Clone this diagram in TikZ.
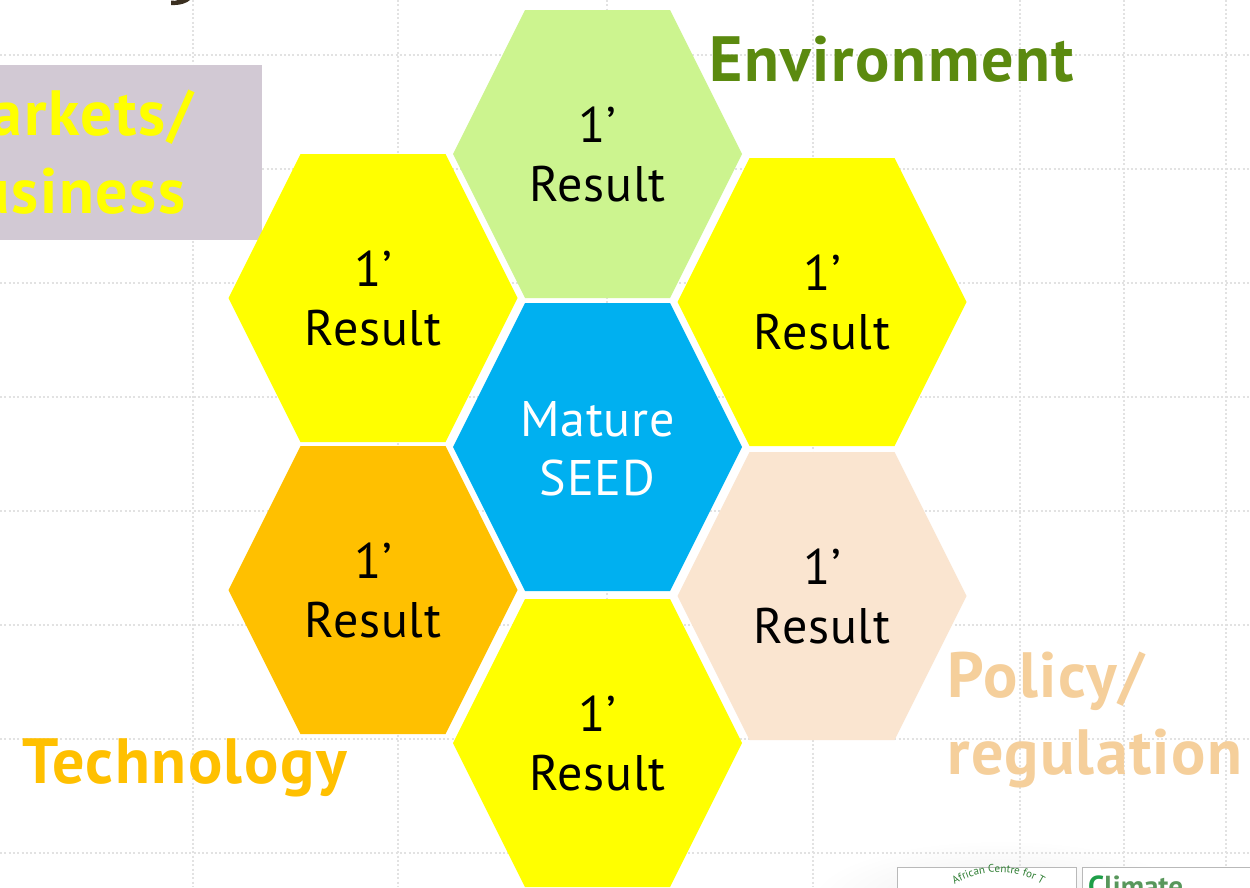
\documentclass[tikz,border=0pt]{standalone}
\usepackage{fontspec}
\usetikzlibrary{decorations.text,shadings}
\newfontfamily\din[LetterSpace=1.6]{PT Sans}
\newfontfamily\dinb[LetterSpace=2.5]{PT Sans Bold}
\newfontfamily\dinreg[LetterSpace=2.1]{PT Sans Bold}
\newfontfamily\dinlogo{PT Sans Bold}
\newfontfamily\dinarc{PT Sans}
\definecolor{gridc}{HTML}{E2E2E2}
\definecolor{hexgreen}{HTML}{CCF48F}
\definecolor{hexyellow}{HTML}{FFFF00}
\definecolor{hexorange}{HTML}{FFC000}
\definecolor{hexpeach}{HTML}{FAE5D0}
\definecolor{hexblue}{HTML}{00B0F0}
\definecolor{labgreen}{HTML}{5B8A0F}
\definecolor{labpeach}{HTML}{F5CF9B}
\definecolor{boxmauve}{HTML}{D2C9D4}
\definecolor{titlebrown}{HTML}{3B3021}
\definecolor{logogreen}{HTML}{2E7D32}
\definecolor{climgreen}{HTML}{1E9E48}
\tikzset{
  gridline/.style={draw=gridc,line width=1.6pt,dash pattern=on 2pt off 2.3pt},
  hextext/.style={font=\din\fontsize{50}{59}\selectfont,align=center,inner sep=0pt,text=black},
  biglabel/.style={font=\dinb\fontsize{64}{78}\selectfont,align=left,inner sep=0pt,anchor=base west},
  logobox/.style={draw=gray!55,line width=0.8pt,fill=white},
}
\newcommand{\hexcell}[5]{%
  \fill[#4] (#2-144.5,#3) -- (#2-72.5,#3-144) -- (#2+72.5,#3-144) -- (#2+144.5,#3) -- (#2+72.5,#3+144) -- (#2-72.5,#3+144) -- cycle;
  \node[hextext,#5] (#1) at (#2,#3+0.5) {1’\\Result};
}
\begin{document}
\begin{tikzpicture}[x=1pt,y=-1pt]
\useasboundingbox (0,0) rectangle (1250,887);
\clip (0,0) rectangle (1250,887);
\fill[white] (0,0) rectangle (1250,887);
% soft shadow near logos
\shade[inner color=gray!14,outer color=white] (1000,900) ellipse (190 and 60);
% grid
\foreach \yy in {55,169,283,397,511,625,739,853} \draw[gridline] (0,\yy) -- (1250,\yy);
\foreach \xx in {193,398,607,813,1020,1124,1226} \draw[gridline] (\xx,0) -- (\xx,887);
% title fragment
\fill[titlebrown] (171,0.5) .. controls (171,2) and (171,3) .. (171,5) .. controls (180,5.5) and (187,3) .. (190,0) -- (178,0) .. controls (176,1) and (174,1) .. (171,0.5) -- cycle;
% markets box
\fill[boxmauve] (0,65) rectangle (262,240);
\node[biglabel,text=hexyellow] (markets) at (-62,135) {Markets/};
\node[biglabel,text=hexyellow] (business) at (-64,213) {Business};
% hexagons
\hexcell{top}{597.5}{154}{hexgreen}{}
\hexcell{upleft}{373}{298}{hexyellow}{}
\hexcell{upright}{822}{302}{hexyellow}{}
\hexcell{lowleft}{373}{590}{hexorange}{}
\hexcell{lowright}{822}{596}{hexpeach}{}
\hexcell{bottom}{597.5}{743}{hexyellow}{}
\fill[hexblue] (453,447) -- (525,303) -- (670,303) -- (742,447) -- (670,591) -- (525,591) -- cycle;
\node[hextext,text=white] (seed) at (597.5,448.5) {Mature\\SEED};
% labels
\node[biglabel,text=labgreen] (env) at (709,81) {Environment};
\node[biglabel,text=hexorange] (tech) at (22,783) {Technology};
\node[biglabel,text=labpeach] (policy) at (947,697) {Policy/};
\node[biglabel,font=\dinreg\fontsize{64}{78}\selectfont,text=labpeach] (reg) at (947,774) {regulation};
% logos
\draw[logobox] (897,867) rectangle (1076,900);
\draw[logobox] (1082,867) rectangle (1260,900);
\path[postaction={decorate},decoration={text along path,text align=center,
  text={|\dinarc\fontsize{11}{12}\selectfont\color{logogreen}|African Centre for T}}]
  (942,894) .. controls (975,865) and (1022,865) .. (1055,894);
\node[font=\dinlogo\fontsize{29}{32}\selectfont,anchor=base west,inner sep=0pt,text=logogreen!80] (climate) at (1088,896) {{\color{climgreen}C}limate};
\end{tikzpicture}
\end{document}
